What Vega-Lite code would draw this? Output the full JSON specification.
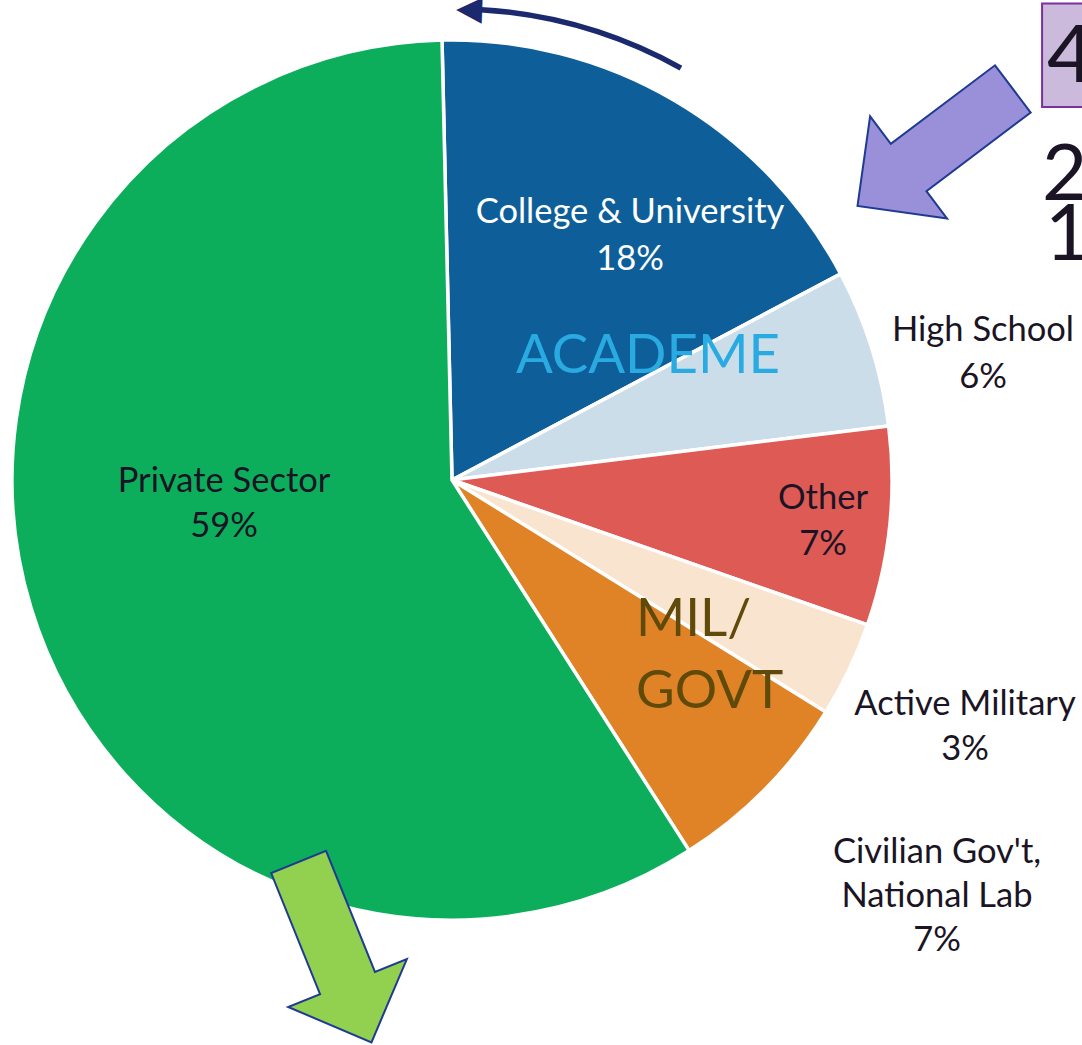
{
  "$schema": "https://vega.github.io/schema/vega-lite/v6.json",
  "width": 904,
  "height": 960,
  "padding": {"left": 0, "top": 0, "right": 178, "bottom": 85},
  "autosize": {"type": "none"},
  "background": "white",
  "config": {"view": {"stroke": null}, "text": {"font": "Lato"}},
  "data": {
    "values": [
      {"rank": 1, "sector": "College & University", "value": 17.6, "lbl": ["College & University", "18%"]},
      {"rank": 2, "sector": "High School", "value": 5.8, "lbl": ["High School", "6%"]},
      {"rank": 3, "sector": "Other", "value": 7.3, "lbl": ["Other", "7%"]},
      {"rank": 4, "sector": "Active Military", "value": 3.5, "lbl": ["Active Military", "3%"]},
      {"rank": 5, "sector": "Civilian Gov't, National Lab", "value": 7.1, "lbl": ["Civilian Gov't,", "National Lab", "7%"]},
      {"rank": 6, "sector": "Private Sector", "value": 58.7, "lbl": ["Private Sector", "59%"]}
    ]
  },
  "encoding": {
    "theta": {"field": "value", "type": "quantitative", "stack": true, "scale": {"range": [-0.0227, 6.2605]}},
    "order": {"field": "rank", "type": "quantitative"},
    "detail": {"field": "sector", "type": "nominal"}
  },
  "layer": [
    {
      "mark": {"type": "arc", "outerRadius": 440, "stroke": "white", "strokeWidth": 3.5},
      "encoding": {
        "color": {
          "field": "sector", "type": "nominal", "legend": null,
          "scale": {
            "domain": ["College & University", "High School", "Other", "Active Military", "Civilian Gov't, National Lab", "Private Sector"],
            "range": ["#0E5F99", "#CCDDEA", "#DD5A55", "#F8E4CF", "#E08327", "#0DAE5B"]
          }
        }
      }
    },
    {
      "mark": {"type": "arc", "radius": 474, "radius2": 468.5, "thetaOffset": -2.065, "color": "#1B2A6E"},
      "encoding": {"opacity": {"condition": {"test": "datum.rank === 5", "value": 1}, "value": 0}}
    },
    {
      "mark": {"type": "text", "radius": 471, "thetaOffset": -0.4936, "fontSize": 34, "angle": 2, "color": "#1B2A6E", "font": "DejaVu Sans", "baseline": "middle", "align": "center"},
      "encoding": {"text": {"condition": {"test": "datum.rank === 1", "value": "◀"}, "value": ""}}
    },
    {
      "mark": {"type": "text", "radius": 320.9, "thetaOffset": 0.0578, "fontSize": 34.5, "lineHeight": 47, "color": "#FFFFFF", "baseline": "middle", "align": "center"},
      "encoding": {"text": {"condition": {"test": "datum.rank === 1", "field": "lbl"}, "value": ""}}
    },
    {
      "mark": {"type": "text", "radius": 551.5, "thetaOffset": 0.0319, "fontSize": 34.5, "lineHeight": 47, "color": "#1A1424", "baseline": "middle", "align": "center"},
      "encoding": {"text": {"condition": {"test": "datum.rank === 2", "field": "lbl"}, "value": ""}}
    },
    {
      "mark": {"type": "text", "radius": 371.5, "thetaOffset": -0.055, "fontSize": 34.5, "lineHeight": 46, "color": "#1A1424", "baseline": "middle", "align": "center"},
      "encoding": {"text": {"condition": {"test": "datum.rank === 3", "field": "lbl"}, "value": ""}}
    },
    {
      "mark": {"type": "text", "radius": 560.2, "thetaOffset": -0.0321, "fontSize": 34.5, "lineHeight": 45, "color": "#1A1424", "baseline": "middle", "align": "center"},
      "encoding": {"text": {"condition": {"test": "datum.rank === 4", "field": "lbl"}, "value": ""}}
    },
    {
      "mark": {"type": "text", "radius": 611.8, "thetaOffset": -0.1229, "fontSize": 34.5, "lineHeight": 44, "color": "#1A1424", "baseline": "middle", "align": "center"},
      "encoding": {"text": {"condition": {"test": "datum.rank === 5", "field": "lbl"}, "value": ""}}
    },
    {
      "mark": {"type": "text", "radius": 228, "thetaOffset": 0.2873, "fontSize": 34.5, "lineHeight": 45, "color": "#1A1424", "baseline": "middle", "align": "center"},
      "encoding": {"text": {"condition": {"test": "datum.rank === 6", "field": "lbl"}, "value": ""}}
    },
    {
      "mark": {"type": "text", "radius": 231.4, "thetaOffset": 0.4801, "fontSize": 54.5, "color": "#29ABE2", "baseline": "middle", "align": "center"},
      "encoding": {"text": {"condition": {"test": "datum.rank === 1", "value": "ACADEME"}, "value": ""}}
    },
    {
      "mark": {"type": "text", "radius": 231.2, "thetaOffset": -0.1279, "fontSize": 53, "lineHeight": 72, "color": "#604A0A", "baseline": "middle", "align": "left"},
      "encoding": {"text": {"condition": {"test": "datum.rank === 5", "value": ["MIL/", "GOVT"]}, "value": ""}}
    },
    {
      "mark": {"type": "text", "radius": 485.6, "thetaOffset": -1.0208, "fontSize": 258, "angle": 68, "color": "#92D050", "stroke": "#1F3A93", "strokeWidth": 2, "font": "DejaVu Sans", "baseline": "middle", "align": "center"},
      "encoding": {"text": {"condition": {"test": "datum.rank === 6", "value": "➡"}, "value": ""}}
    },
    {
      "mark": {"type": "text", "radius": 590.3, "thetaOffset": -0.3042, "fontSize": 258, "angle": 143, "color": "#9A8FD9", "stroke": "#1F3A93", "strokeWidth": 2, "font": "DejaVu Sans", "baseline": "middle", "align": "center"},
      "encoding": {"text": {"condition": {"test": "datum.rank === 2", "value": "➡"}, "value": ""}}
    },
    {
      "mark": {"type": "text", "radius": 725.6, "thetaOffset": -0.3136, "fontSize": 87, "color": "#CBBADB", "stroke": "#7B2FA0", "strokeWidth": 2, "font": "DejaVu Sans", "baseline": "middle", "align": "left"},
      "encoding": {"text": {"condition": {"test": "datum.rank === 2", "value": "█"}, "value": ""}}
    },
    {
      "mark": {"type": "text", "radius": 729.4, "thetaOffset": -0.3115, "fontSize": 80, "color": "#1A1424", "baseline": "middle", "align": "left"},
      "encoding": {"text": {"condition": {"test": "datum.rank === 2", "value": "4"}, "value": ""}}
    },
    {
      "mark": {"type": "text", "radius": 663.3, "thetaOffset": -0.1691, "fontSize": 78, "color": "#1A1424", "baseline": "middle", "align": "left"},
      "encoding": {"text": {"condition": {"test": "datum.rank === 2", "value": "2"}, "value": ""}}
    },
    {
      "mark": {"type": "text", "radius": 640.9, "thetaOffset": -0.0834, "fontSize": 78, "color": "#1A1424", "baseline": "middle", "align": "left"},
      "encoding": {"text": {"condition": {"test": "datum.rank === 2", "value": "1"}, "value": ""}}
    }
  ]
}
